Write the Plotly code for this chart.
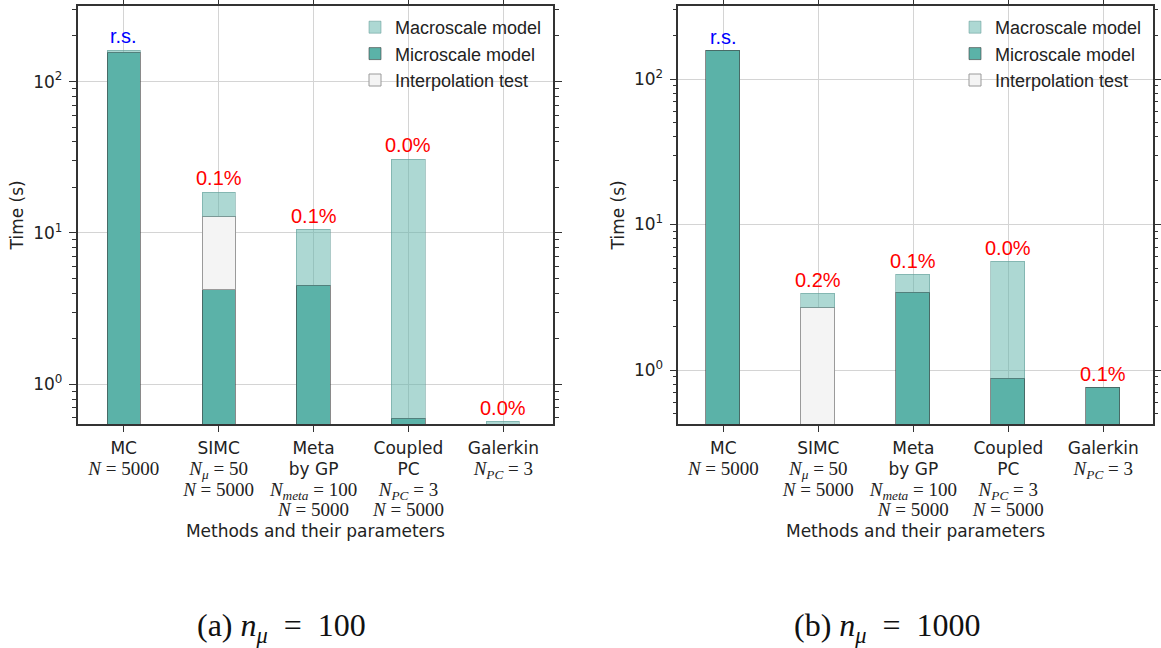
import numpy as np
import plotly.graph_objects as go

# ---------------- data ----------------
methods = ["MC", "SIMC", "Meta<br>by GP", "Coupled<br>PC", "Galerkin"]
params = [
    ["<i>N</i> = 5000"],
    ["<i>N</i><sub><i>μ</i></sub> = 50", "<i>N</i> = 5000"],
    ["<i>N</i><sub><i>meta</i></sub> = 100", "<i>N</i> = 5000"],
    ["<i>N</i><sub><i>PC</i></sub> = 3", "<i>N</i> = 5000"],
    ["<i>N</i><sub><i>PC</i></sub> = 3"],
]

# (a) n_mu = 100  (seconds, stacked: micro, interpolation, macro)
micro_a = [156.0, 4.23, 4.45, 0.596, 0.50]
interp_a = [None, 8.67, None, None, None]
macro_a = [5.0, 5.6, 6.05, 30.1, 0.066]
labels_a = ["r.s.", "0.1%", "0.1%", "0.0%", "0.0%"]

# (b) n_mu = 1000
micro_b = [156.6, None, 3.41, 0.877, 0.756]
interp_b = [None, 2.70, None, None, None]
macro_b = [None, 0.64, 1.12, 4.69, None]
labels_b = ["r.s.", "0.2%", "0.1%", "0.0%", "0.1%"]

captions = ["(a) <i>n</i><sub><i>μ</i></sub>  =  100", "(b) <i>n</i><sub><i>μ</i></sub>  =  1000"]

# ---------------- style ----------------
C_MICRO = "rgb(91,178,168)"
C_MACRO = "rgba(91,178,168,0.5)"
C_INTERP = "#f4f4f4"
SANS = "DejaVu Sans"
SERIF = "Liberation Serif"
FRAME = "#333333"


def math(s):
    return "<span style='font-family:%s;font-size:19px'>%s</span>" % (SERIF, s)


def sans(s):
    return "<span style='font-size:17px'>%s</span>" % s


ticktext = []
for m, p in zip(methods, params):
    ticktext.append("<br>".join(sans(t) for t in m.split("<br>")) + "<br>" + "<br>".join(math(s) for s in p))

xpos = list(range(len(methods)))

fig = go.Figure()

panels = [
    dict(micro=micro_a, interp=interp_a, macro=macro_a, labels=labels_a,
         xa="x", ya="y", legend="legend", yr=[-0.262, 2.501], xr=[-0.487, 4.526]),
    dict(micro=micro_b, interp=interp_b, macro=macro_b, labels=labels_b,
         xa="x2", ya="y2", legend="legend2", yr=[-0.371, 2.504], xr=[-0.474, 4.52]),
]

edge = dict(color="rgba(60,60,60,0.6)", width=1)
for i, p in enumerate(panels):
    fig.add_trace(go.Bar(x=xpos, y=p["micro"], name="Microscale model", marker=dict(color=C_MICRO, line=edge),
                         width=0.35, xaxis=p["xa"], yaxis=p["ya"], legend=p["legend"], legendrank=2))
    fig.add_trace(go.Bar(x=xpos, y=p["interp"], name="Interpolation test",
                         marker=dict(color=C_INTERP, line=dict(color="#9a9a9a", width=1)),
                         width=0.35, xaxis=p["xa"], yaxis=p["ya"], legend=p["legend"], legendrank=3))
    fig.add_trace(go.Bar(x=xpos, y=p["macro"], name="Macroscale model",
                         marker=dict(color=C_MACRO, line=dict(color="rgba(91,150,145,0.5)", width=1)),
                         width=0.35, xaxis=p["xa"], yaxis=p["ya"], legend=p["legend"], legendrank=1))
    totals = [sum(v or 0 for v in vals) for vals in zip(p["micro"], p["interp"], p["macro"])]
    for xi, tot, lab in zip(xpos, totals, p["labels"]):
        fig.add_annotation(x=xi, y=np.log10(tot), xref=p["xa"], yref=p["ya"], text=lab, showarrow=False,
                           yanchor="middle", yshift=14,
                           font=dict(family="Liberation Sans", size=20,
                                     color="blue" if lab == "r.s." else "red"))

xdoms = [[77.5 / 1161, 553.3 / 1161], [678.3 / 1161, 1152.7 / 1161]]
ydom = [1 - 424 / 648, 1 - 5.7 / 648]

for i, p in enumerate(panels):
    sfx = "" if i == 0 else "2"
    fig.update_layout(**{
        "xaxis" + sfx: dict(
            domain=xdoms[i], range=p["xr"], tickvals=xpos, ticktext=ticktext,
            showline=True, linecolor=FRAME, linewidth=1.5, mirror="allticks",
            ticks="outside", ticklen=6, tickcolor=FRAME, tickwidth=1.2,
            showgrid=True, gridcolor="#d4d4d4", gridwidth=1, zeroline=False,
            tickfont=dict(family=SANS, size=16, color="#222"), ticklabelstandoff=3,
            title=dict(text="Methods and their parameters", font=dict(family=SANS, size=17, color="#222"), standoff=6),
            anchor="y" + sfx, automargin=False, fixedrange=True),
        "yaxis" + sfx: dict(
            domain=ydom, type="log", range=p["yr"], tickvals=[1, 10, 100],
            ticktext=["10<sup>0</sup>", "10<sup>1</sup>", "10<sup>2</sup>"],
            showline=True, linecolor=FRAME, linewidth=1.5, mirror="allticks",
            ticks="outside", ticklen=7, tickcolor=FRAME, tickwidth=1.2,
            minor=dict(dtick="D1", ticks="outside", ticklen=4, tickcolor=FRAME, showgrid=False),
            showgrid=True, gridcolor="#d4d4d4", gridwidth=1, zeroline=False,
            tickfont=dict(family=SANS, size=17, color="#222"), ticklabelstandoff=3,
            title=dict(text="Time (s)", font=dict(family=SANS, size=17, color="#222"), standoff=5),
            anchor="x" + sfx, automargin=False, fixedrange=True),
    })

leg = dict(yanchor="top", xanchor="left", bgcolor="rgba(0,0,0,0)",
           font=dict(family="Liberation Sans", size=18, color="#222"), traceorder="normal")
fig.update_layout(
    legend=dict(x=355 / 1161, y=1 - 9 / 648, **leg),
    legend2=dict(x=955 / 1161, y=1 - 9 / 648, **leg),
)

for i, cap in enumerate(captions):
    fig.add_annotation(x=[281, 887][i] / 1161, y=1 - 627 / 648, xref="paper", yref="paper", text=cap,
                       showarrow=False, xanchor="center", yanchor="middle",
                       font=dict(family=SERIF, size=32, color="#111"))

fig.update_layout(
    width=1161, height=648, margin=dict(l=0, r=0, t=0, b=0),
    paper_bgcolor="white", plot_bgcolor="white", barmode="stack", bargap=0,
    showlegend=True,
)

fig.write_html("out.html")
